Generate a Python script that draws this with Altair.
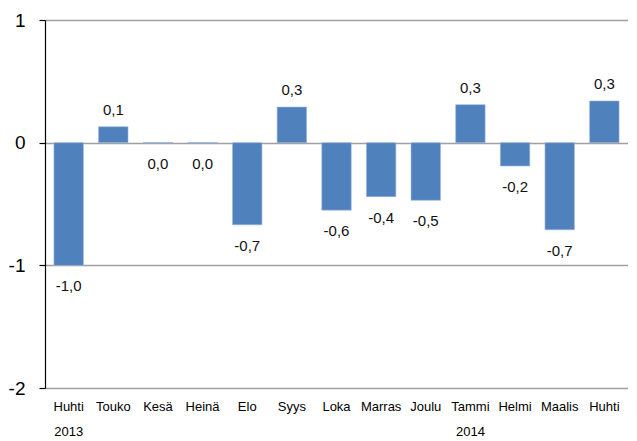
import altair as alt
import pandas as pd

months = ["Huhti", "Touko", "Kesä", "Heinä", "Elo", "Syys", "Loka", "Marras",
          "Joulu", "Tammi", "Helmi", "Maalis", "Huhti"]
years = ["2013", "", "", "", "", "", "", "", "", "2014", "", "", ""]
values = [-1.0, 0.13, -0.005, -0.005, -0.67, 0.29, -0.55, -0.44, -0.47,
          0.31, -0.19, -0.71, 0.34]
labels = ["-1,0", "0,1", "0,0", "0,0", "-0,7", "0,3", "-0,6", "-0,4", "-0,5",
          "0,3", "-0,2", "-0,7", "0,3"]
y_ticks = [-2, -1, 0, 1]

keys = [f"{m}|{y}|{i}" for i, (m, y) in enumerate(zip(months, years))]
df = pd.DataFrame({"key": keys, "value": values, "label": labels})

FONT = "Liberation Sans"

x_enc = alt.X(
    "key:N", sort=keys, title=None,
    scale=alt.Scale(paddingInner=0.34, paddingOuter=0.2),
    axis=alt.Axis(
        domain=False, ticks=False, tickSize=0, grid=False,
        labelAngle=0, labelFontSize=13, labelFont=FONT, labelColor="#000",
        labelPadding=12, labelLineHeight=25, labelOverlap=False, labelLimit=200,
        labelExpr="[split(datum.value, '|')[0], split(datum.value, '|')[1]]",
    ),
)
y_scale = alt.Scale(domain=[-2, 1], nice=False, zero=False)
y_enc = alt.Y(
    "value:Q", scale=y_scale, title=None,
    axis=alt.Axis(
        values=y_ticks, domain=True, domainColor="#000", domainWidth=1.2,
        ticks=True, tickColor="#000", tickSize=6, tickWidth=1.2,
        grid=True, gridColor="#a0a0a0", gridWidth=1.3,
        labelFontSize=19, labelFont=FONT, labelColor="#000", labelPadding=14,
        labelExpr="'' + datum.value",
    ),
)

base = alt.Chart(df)

bars = base.mark_bar(color="#4F81BD", stroke="#9db7dc", strokeWidth=0.6).encode(
    x=x_enc, y=y_enc, y2=alt.datum(0)
)

pos_text = base.transform_filter("datum.value > 0").mark_text(
    baseline="alphabetic", dy=-12, fontSize=15, font=FONT, color="#111"
).encode(x=alt.X("key:N", sort=keys), y=alt.Y("value:Q", scale=y_scale), text="label:N")

neg_text = base.transform_filter("datum.value <= 0").mark_text(
    baseline="top", dy=14, fontSize=15, font=FONT, color="#111"
).encode(x=alt.X("key:N", sort=keys), y=alt.Y("value:Q", scale=y_scale), text="label:N")

chart = alt.layer(bars, pos_text, neg_text).properties(
    width=583, height=368,
    padding={"top": 3, "left": 0, "right": 0, "bottom": 0},
    background="white",
).configure_view(stroke=None)

chart.save("out.html", embed_options={"renderer": "svg", "actions": False})
